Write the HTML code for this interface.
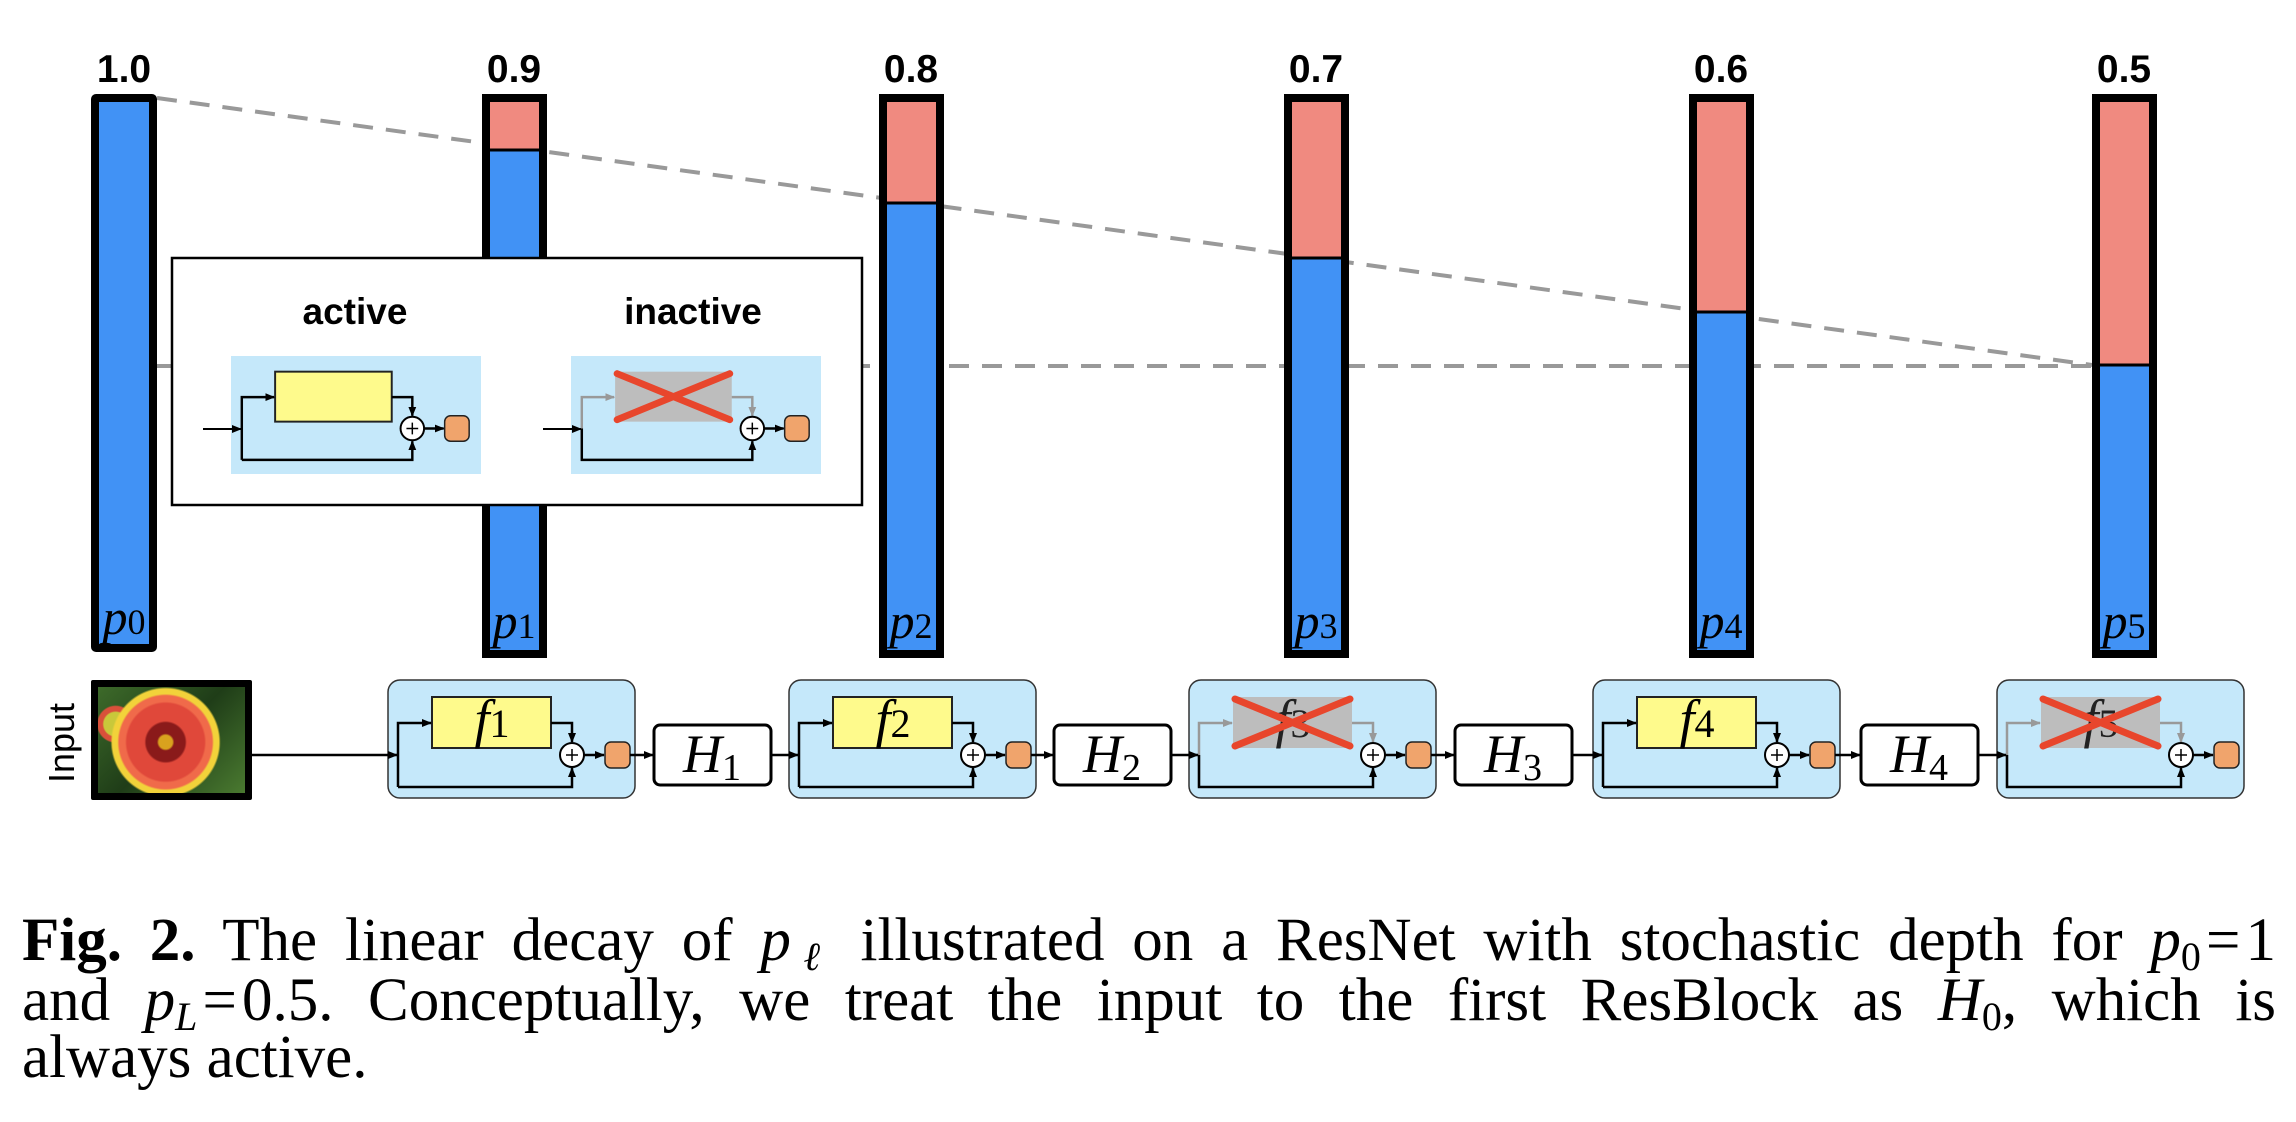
<!DOCTYPE html>
<html><head><meta charset="utf-8"><style>
html,body{margin:0;padding:0;background:#fff;width:2296px;height:1122px;overflow:hidden;position:relative}
.cap{position:absolute;left:22px;width:2254px;font-family:"Liberation Serif",serif;font-size:61px;text-align:justify;text-align-last:justify;white-space:nowrap;line-height:1}
.cap i{font-style:italic}
.s{font-size:40px;position:relative;top:10px;line-height:0}
.flower{position:absolute;left:91px;top:680px;width:161px;height:120px;box-sizing:border-box;border:7px solid #000;border-radius:2px;
background:radial-gradient(circle at 46% 52%, #d9a21e 0 7%, #8a1a1a 9% 20%, #e0483a 22% 40%, #f06a4a 42% 48%, #f2d23a 50% 55%, transparent 57%),
radial-gradient(circle at 12% 35%, #c9c83a 0 8%, #d9503a 9% 12%, transparent 13%),
linear-gradient(135deg,#3d6a2a,#1f3d18 50%,#4a7a30)}
</style></head><body>
<svg width="2296" height="1122" style="position:absolute;left:0;top:0" xmlns="http://www.w3.org/2000/svg">
<defs>
<marker id="ah" markerWidth="10" markerHeight="10" refX="9" refY="5" orient="auto" markerUnits="userSpaceOnUse"><path d="M0,1 L10,5 L0,9 z" fill="#000"/></marker>
<marker id="ag" markerWidth="10" markerHeight="10" refX="9" refY="5" orient="auto" markerUnits="userSpaceOnUse"><path d="M0,1 L10,5 L0,9 z" fill="#999"/></marker>
<g id="act">
<rect x="44" y="17" width="119" height="51" fill="#fefa8c" stroke="#222" stroke-width="2"/>
<path d="M10,107 L10,43 L43,43" fill="none" stroke="#000" stroke-width="2.5" marker-end="url(#ah)"/>
<path d="M10,107 L184,107 L184,88" fill="none" stroke="#000" stroke-width="2.5" marker-end="url(#ah)"/>
<path d="M163,43 L184,43 L184,62" fill="none" stroke="#000" stroke-width="2.5" marker-end="url(#ah)"/>
<circle cx="184" cy="75" r="12" fill="#fff" stroke="#000" stroke-width="2"/>
<path d="M178,75 h12 M184,69 v12" stroke="#000" stroke-width="1.5"/>
<path d="M196,75 L216,75" stroke="#000" stroke-width="2.5" marker-end="url(#ah)"/>
<rect x="217" y="62" width="25" height="26" rx="6" fill="#f0a46c" stroke="#222" stroke-width="1.5"/>
</g>
<g id="ina">
<rect x="44" y="17" width="119" height="51" fill="#bdbdbd"/>
<path d="M10,107 L10,43 L43,43" fill="none" stroke="#999" stroke-width="2.5" marker-end="url(#ag)"/>
<path d="M10,75 L10,107 L184,107 L184,88" fill="none" stroke="#000" stroke-width="2.5" marker-end="url(#ah)"/>
<path d="M163,43 L184,43 L184,62" fill="none" stroke="#999" stroke-width="2.5" marker-end="url(#ag)"/>
<circle cx="184" cy="75" r="12" fill="#fff" stroke="#000" stroke-width="2"/>
<path d="M178,75 h12 M184,69 v12" stroke="#000" stroke-width="1.5"/>
<path d="M196,75 L216,75" stroke="#000" stroke-width="2.5" marker-end="url(#ah)"/>
<rect x="217" y="62" width="25" height="26" rx="6" fill="#f0a46c" stroke="#222" stroke-width="1.5"/>
</g>
<g id="xx"><path d="M46,19 L161,66 M46,66 L161,19" stroke="#e8462c" stroke-width="7" stroke-linecap="round"/></g>
</defs>

<line x1="157" y1="98" x2="2092" y2="365" stroke="#999" stroke-width="4" stroke-dasharray="20 13"/>
<line x1="157" y1="366" x2="2092" y2="366" stroke="#999" stroke-width="4" stroke-dasharray="20 13"/>

<g stroke="#000" stroke-width="8">
<rect x="95" y="98" width="58" height="550" fill="#4192f5" rx="1"/>
<rect x="486" y="98" width="57" height="556" fill="#4192f5"/>
<rect x="883" y="98" width="57" height="556" fill="#4192f5"/>
<rect x="1288" y="98" width="57" height="556" fill="#4192f5"/>
<rect x="1693" y="98" width="57" height="556" fill="#4192f5"/>
<rect x="2096" y="98" width="57" height="556" fill="#4192f5"/>
</g>
<g fill="#f08a80">
<rect x="490" y="102" width="49" height="48"/>
<rect x="887" y="102" width="49" height="101"/>
<rect x="1292" y="102" width="49" height="156"/>
<rect x="1697" y="102" width="49" height="210"/>
<rect x="2100" y="102" width="49" height="263"/>
</g>
<g stroke="#000" stroke-width="3">
<line x1="490" y1="150" x2="539" y2="150"/><line x1="887" y1="203" x2="936" y2="203"/>
<line x1="1292" y1="258" x2="1341" y2="258"/><line x1="1697" y1="312" x2="1746" y2="312"/>
<line x1="2100" y1="365" x2="2149" y2="365"/>
</g>

<g font-family="Liberation Sans, sans-serif" font-weight="bold" font-size="39" text-anchor="middle">
<text x="124" y="82">1.0</text><text x="514" y="82">0.9</text><text x="911" y="82">0.8</text>
<text x="1316" y="82">0.7</text><text x="1721" y="82">0.6</text><text x="2124" y="82">0.5</text>
</g>
<g font-family="Liberation Serif, serif" font-size="50" text-anchor="middle">
<text x="124" y="634"><tspan font-style="italic">p</tspan><tspan font-size="36">0</tspan></text>
<text x="514" y="638"><tspan font-style="italic">p</tspan><tspan font-size="36">1</tspan></text>
<text x="911" y="638"><tspan font-style="italic">p</tspan><tspan font-size="36">2</tspan></text>
<text x="1316" y="638"><tspan font-style="italic">p</tspan><tspan font-size="36">3</tspan></text>
<text x="1721" y="638"><tspan font-style="italic">p</tspan><tspan font-size="36">4</tspan></text>
<text x="2124" y="638"><tspan font-style="italic">p</tspan><tspan font-size="36">5</tspan></text>
</g>

<rect x="172" y="258" width="690" height="247" fill="#fff" stroke="#000" stroke-width="2.5"/>
<g font-family="Liberation Sans, sans-serif" font-weight="bold" font-size="37" text-anchor="middle">
<text x="355" y="324">active</text><text x="693" y="324">inactive</text>
</g>
<rect x="231" y="356" width="250" height="118" fill="#c5e8fa"/>
<rect x="571" y="356" width="250" height="118" fill="#c5e8fa"/>
<g transform="translate(232,355) scale(0.98)"><use href="#act"/></g>
<line x1="203" y1="429" x2="241" y2="429" stroke="#000" stroke-width="2" marker-end="url(#ah)"/>
<g transform="translate(572,355) scale(0.98)"><use href="#ina"/><use href="#xx"/></g>
<line x1="543" y1="429" x2="581" y2="429" stroke="#000" stroke-width="2" marker-end="url(#ah)"/>

<text transform="translate(74,743) rotate(-90)" font-family="Liberation Sans, sans-serif" font-size="36" text-anchor="middle">Input</text>

<g stroke="#333" stroke-width="1.5" fill="#c5e8fa">
<rect x="388" y="680" width="247" height="118" rx="12"/>
<rect x="789" y="680" width="247" height="118" rx="12"/>
<rect x="1189" y="680" width="247" height="118" rx="12"/>
<rect x="1593" y="680" width="247" height="118" rx="12"/>
<rect x="1997" y="680" width="247" height="118" rx="12"/>
</g>
<g transform="translate(388,680)"><use href="#act"/></g>
<g transform="translate(789,680)"><use href="#act"/></g>
<g transform="translate(1189,680)"><use href="#ina"/></g>
<g transform="translate(1593,680)"><use href="#act"/></g>
<g transform="translate(1997,680)"><use href="#ina"/></g>

<g fill="#fff" stroke="#000" stroke-width="3">
<rect x="654" y="725" width="117" height="60" rx="6"/>
<rect x="1054" y="725" width="117" height="60" rx="6"/>
<rect x="1455" y="725" width="117" height="60" rx="6"/>
<rect x="1861" y="725" width="117" height="60" rx="6"/>
</g>
<g stroke="#000" stroke-width="2.5" marker-end="url(#ah)">
<line x1="252" y1="755" x2="397" y2="755"/>
<line x1="630" y1="755" x2="653" y2="755"/>
<line x1="771" y1="755" x2="798" y2="755"/>
<line x1="1031" y1="755" x2="1053" y2="755"/>
<line x1="1171" y1="755" x2="1198" y2="755"/>
<line x1="1431" y1="755" x2="1454" y2="755"/>
<line x1="1572" y1="755" x2="1602" y2="755"/>
<line x1="1835" y1="755" x2="1860" y2="755"/>
<line x1="1978" y1="755" x2="2006" y2="755"/>
</g>

<g font-family="Liberation Serif, serif" font-size="54" text-anchor="middle">
<text x="492" y="737"><tspan font-style="italic">f</tspan><tspan font-size="40">1</tspan></text>
<text x="893" y="737"><tspan font-style="italic">f</tspan><tspan font-size="40">2</tspan></text>
<text x="1293" y="737" fill="#222"><tspan font-style="italic">f</tspan><tspan font-size="40">3</tspan></text>
<text x="1697" y="737"><tspan font-style="italic">f</tspan><tspan font-size="40">4</tspan></text>
<text x="2101" y="737" fill="#222"><tspan font-style="italic">f</tspan><tspan font-size="40">5</tspan></text>
<text x="712" y="772"><tspan font-style="italic">H</tspan><tspan font-size="38" dy="8">1</tspan></text>
<text x="1112" y="772"><tspan font-style="italic">H</tspan><tspan font-size="38" dy="8">2</tspan></text>
<text x="1513" y="772"><tspan font-style="italic">H</tspan><tspan font-size="38" dy="8">3</tspan></text>
<text x="1919" y="772"><tspan font-style="italic">H</tspan><tspan font-size="38" dy="8">4</tspan></text>
</g>
<g transform="translate(1189,680)"><use href="#xx"/></g>
<g transform="translate(1997,680)"><use href="#xx"/></g>
</svg>
<div class="flower"></div>
<div class="cap" style="top:910px"><b>Fig. 2.</b> The linear decay of <i>p<span class="s">ℓ</span></i> illustrated on a ResNet with stochastic depth for <i>p</i><span class="s">0</span>&#8202;=&#8202;1</div>
<div class="cap" style="top:970px">and <i>p<span class="s">L</span></i>&#8202;=&#8202;0.5. Conceptually, we treat the input to the first ResBlock as <i>H</i><span class="s">0</span>, which is</div>
<div class="cap" style="top:1027px;text-align-last:left">always active.</div>
</body></html>
